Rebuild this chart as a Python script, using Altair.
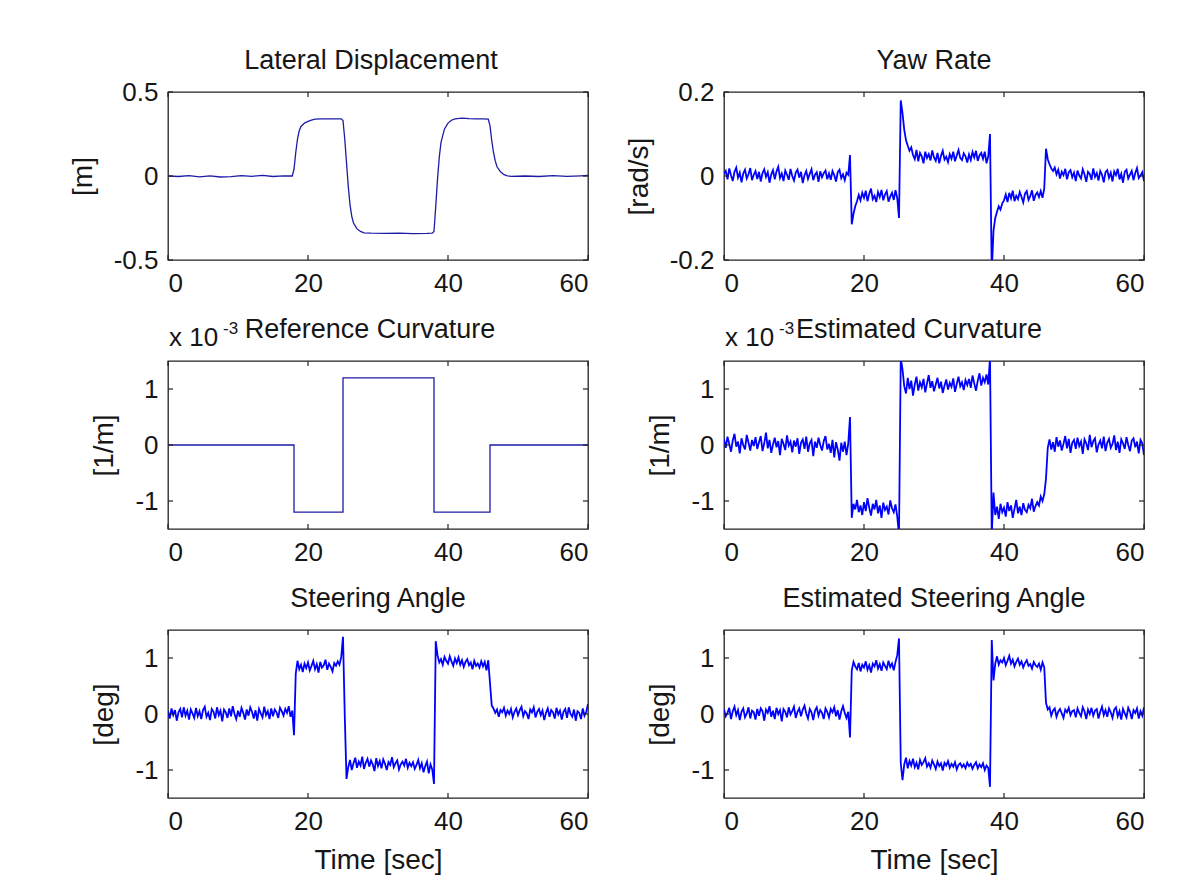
import altair as alt
import pandas as pd

# ---------------- data ----------------
T_STEP = 0.25  # sample spacing of the recorded signals [s]

# Yaw rate [rad/s], one row = 5 s
YAW_RATE = [
    0.005, 0.012, -0.008, 0.018, 0.002, -0.012, 0.010, 0.020, -0.004, 0.008, -0.015, 0.006, 0.015, -0.006, 0.004, 0.019, -0.010, 0.003, 0.012, -0.007,
    0.010, -0.013, 0.007, 0.016, -0.002, 0.009, -0.016, 0.004, 0.014, -0.008, 0.011, 0.022, -0.005, 0.006, -0.012, 0.013, 0.003, -0.009, 0.017, 0.000,
    -0.011, 0.008, 0.015, -0.004, 0.010, -0.017, 0.002, 0.012, -0.007, 0.005, 0.016, -0.010, 0.003, 0.009, -0.014, 0.011, -0.003, 0.007, 0.013, -0.008,
    0.006, -0.009, 0.012, 0.002, -0.013, 0.009, 0.015, -0.005, 0.004, -0.010, 0.008, 0.003, 0.050, -0.115, -0.090, -0.072, -0.060, -0.045, -0.058, -0.040,
    -0.052, -0.035, -0.060, -0.042, -0.030, -0.055, -0.047, -0.062, -0.038, -0.050, -0.033, -0.058, -0.044, -0.036, -0.061, -0.049, -0.040, -0.057, -0.034, -0.053,
    -0.100, 0.180, 0.150, 0.110, 0.085, 0.072, 0.060, 0.068, 0.050, 0.040, 0.062, 0.035, 0.055, 0.047, 0.030, 0.058, 0.043, 0.052, 0.037, 0.061,
    0.044, 0.036, 0.055, 0.030, 0.048, 0.060, 0.039, 0.046, 0.033, 0.052, 0.041, 0.058, 0.035, 0.049, 0.062, 0.043, 0.038, 0.054, 0.047, 0.032,
    0.051, 0.038, 0.057, 0.044, 0.060, 0.036, 0.049, 0.055, 0.041, 0.058, 0.030, 0.047, 0.100, -0.230, -0.130, -0.100, -0.085, -0.072, -0.080, -0.065,
    -0.058, -0.044, -0.062, -0.040, -0.053, -0.035, -0.060, -0.047, -0.055, -0.038, -0.050, -0.063, -0.042, -0.036, -0.057, -0.048, -0.034, -0.059, -0.045, -0.039,
    -0.050, -0.036, -0.052, -0.030, 0.065, 0.040, 0.028, 0.018, 0.012, 0.020, 0.004, 0.015, -0.006, 0.010, 0.002, 0.017, -0.008, 0.009, 0.014, -0.003,
    0.008, -0.012, 0.013, 0.001, -0.006, 0.016, 0.004, -0.014, 0.010, 0.005, -0.009, 0.018, -0.002, 0.007, -0.011, 0.012, 0.003, -0.015, 0.009, 0.014,
    -0.004, 0.008, -0.013, 0.011, 0.002, 0.017, -0.008, 0.005, -0.016, 0.010, 0.015, -0.006, 0.003, 0.012, -0.010, 0.007, 0.019, -0.005, 0.001, 0.009,
    -0.012,
]

# Estimated curvature [10^-3 1/m]
EST_CURVATURE = [
    0.10, -0.05, 0.15, 0.02, -0.12, 0.08, 0.20, -0.03, 0.06, -0.15, 0.12, 0.00, -0.08, 0.18, 0.04, -0.10, 0.09, -0.02, 0.14, -0.07,
    0.05, 0.16, -0.11, 0.03, 0.22, -0.06, 0.09, -0.14, 0.01, 0.13, -0.04, 0.07, -0.18, 0.11, 0.02, -0.09, 0.17, -0.01, 0.06, -0.13,
    0.08, -0.03, 0.12, -0.16, 0.04, 0.10, -0.07, 0.15, -0.12, 0.03, 0.09, -0.20, 0.06, -0.05, 0.13, 0.00, -0.10, 0.07, 0.16, -0.08,
    0.02, -0.14, 0.09, -0.22, 0.05, -0.08, -0.28, 0.04, -0.12, 0.06, -0.18, 0.03, 0.50, -1.30, -1.05, -1.15, -0.98, -1.20, -1.08, -1.25,
    -1.02, -1.18, -0.95, -1.12, -1.26, -1.05, -1.15, -0.98, -1.22, -1.08, -1.30, -1.03, -1.16, -1.10, -1.24, -0.99, -1.13, -1.20, -1.06, -1.28,
    -1.60, 1.55, 1.35, 1.05, 0.92, 1.20, 1.00, 1.15, 0.88, 1.08, 1.22, 0.97, 1.12, 1.03, 1.18, 0.94, 1.10, 1.25, 1.02, 1.14,
    0.96, 1.08, 1.20, 1.01, 1.13, 0.93, 1.06, 1.17, 0.99, 1.11, 1.04, 1.19, 0.95, 1.09, 1.22, 1.05, 1.12, 0.98, 1.16, 1.07,
    1.18, 1.02, 1.24, 1.10, 0.97, 1.15, 1.28, 1.06, 1.20, 1.12, 1.26, 1.08, 1.55, -1.60, -0.85, -1.25, -1.10, -1.32, -1.05, -1.20,
    -1.12, -1.28, -1.02, -1.18, -1.08, -1.30, -1.14, -0.98, -1.22, -1.10, -1.25, -1.04, -1.16, -1.20, -1.07, -1.13, -0.96, -1.19, -1.09, -1.02,
    -1.08, -0.92, -1.00, -0.88, -0.60, -0.05, 0.10, -0.08, 0.05, -0.12, 0.14, -0.03, 0.08, -0.10, 0.02, 0.16, -0.06, 0.11, -0.14, 0.04,
    0.09, -0.07, 0.13, -0.02, 0.06, -0.16, 0.10, 0.03, -0.09, 0.18, -0.04, 0.07, 0.12, -0.13, 0.01, 0.08, -0.06, 0.15, -0.11, 0.04,
    0.11, -0.05, 0.02, 0.17, -0.09, 0.06, -0.14, 0.10, 0.03, -0.07, 0.14, 0.00, -0.11, 0.08, 0.12, -0.04, 0.06, -0.15, 0.09, 0.03,
    -0.18,
]

# Steering angle [deg]
STEERING = [
    0.05, -0.08, 0.10, -0.02, 0.07, -0.12, 0.03, 0.09, -0.06, 0.12, -0.03, 0.06, -0.10, 0.08, 0.01, -0.07, 0.11, -0.04, 0.05, -0.09,
    0.07, 0.13, -0.05, 0.02, -0.11, 0.09, 0.04, -0.08, 0.12, -0.02, 0.06, -0.13, 0.08, 0.03, -0.07, 0.10, -0.04, 0.14, 0.00, -0.09,
    0.06, -0.05, 0.11, 0.02, -0.10, 0.08, -0.03, 0.12, 0.04, -0.08, 0.07, -0.12, 0.09, 0.01, -0.06, 0.13, -0.02, 0.05, -0.09, 0.10,
    -0.04, 0.08, 0.03, -0.07, 0.11, 0.05, -0.03, 0.09, 0.02, 0.14, -0.05, 0.06, -0.38, 0.72, 0.95, 0.80, 0.88, 0.75, 0.90, 0.82,
    0.92, 0.78, 0.86, 0.95, 0.80, 0.89, 0.74, 0.93, 0.83, 0.87, 0.97, 0.79, 0.90, 0.84, 0.76, 0.91, 0.86, 0.94, 0.88, 1.02,
    1.38, -0.02, -1.16, -0.95, -0.82, -1.00, -0.88, -0.78, -0.96, -0.85, -0.92, -0.76, -0.98, -0.87, -0.80, -0.94, -0.83, -0.90, -1.02, -0.79,
    -0.93, -0.84, -0.97, -0.81, -0.89, -1.00, -0.86, -0.91, -0.77, -0.95, -0.88, -0.83, -0.99, -0.90, -0.85, -0.92, -0.80, -0.96, -0.87, -0.93,
    -0.86, -0.98, -0.91, -0.82, -0.97, -0.88, -1.04, -0.93, -0.85, -1.06, -0.90, -0.99, -1.25, 1.30, 1.05, 0.92, 0.98, 0.88, 1.02, 0.95,
    0.90, 1.03, 0.94, 0.86, 0.99, 0.91, 1.01, 0.88, 0.96, 0.84, 0.93, 0.98, 0.87, 0.92, 0.80, 0.95, 0.86, 0.90, 0.83, 0.94,
    0.85, 0.93, 0.78, 0.96, 0.55, 0.15, 0.10, 0.02, 0.08, -0.05, 0.07, 0.03, 0.11, -0.03, 0.06, 0.00, 0.09, -0.06, 0.04, 0.10,
    -0.02, 0.07, 0.13, -0.04, 0.05, 0.01, -0.09, 0.08, 0.03, 0.12, -0.06, 0.04, 0.09, -0.02, 0.06, -0.11, 0.02, 0.10, -0.05, 0.07,
    0.03, -0.08, 0.11, -0.01, 0.06, -0.10, 0.04, 0.09, -0.07, 0.12, 0.00, -0.05, 0.08, -0.12, 0.05, 0.02, -0.09, 0.10, -0.03, 0.04,
    0.18,
]

# Estimated steering angle [deg]
EST_STEERING = [
    0.08, -0.04, 0.02, 0.11, -0.09, 0.05, 0.13, -0.02, 0.07, -0.11, 0.04, 0.10, -0.06, 0.01, 0.12, -0.08, 0.06, 0.03, -0.10, 0.09,
    -0.03, 0.10, 0.05, -0.12, 0.08, 0.02, 0.14, -0.05, 0.06, -0.09, 0.11, 0.00, 0.07, -0.13, 0.09, 0.04, -0.06, 0.12, -0.01, 0.05,
    0.13, -0.07, 0.04, 0.10, -0.04, 0.08, 0.15, 0.01, -0.08, 0.09, 0.03, -0.11, 0.06, 0.12, -0.03, 0.07, 0.02, -0.09, 0.10, 0.04,
    -0.06, 0.09, 0.03, 0.12, -0.04, 0.07, -0.10, 0.05, 0.14, 0.02, -0.07, 0.04, -0.42, 0.78, 0.93, 0.85, 0.80, 0.91, 0.76, 0.88,
    0.83, 0.94, 0.79, 0.87, 0.74, 0.90, 0.85, 0.96, 0.81, 0.89, 0.77, 0.92, 0.86, 0.80, 0.95, 0.84, 0.90, 0.78, 0.93, 1.05,
    1.35, -0.88, -1.18, -0.90, -0.78, -0.97, -0.84, -0.92, -0.80, -0.95, -0.87, -0.99, -0.82, -0.91, -0.86, -0.79, -0.94, -0.88, -0.96, -0.83,
    -0.90, -0.98, -0.85, -0.93, -0.88, -1.01, -0.87, -0.92, -0.84, -0.96, -0.89, -0.94, -0.86, -0.99, -0.91, -0.88, -0.95, -0.90, -0.97, -0.87,
    -0.93, -0.89, -0.98, -0.91, -0.86, -0.97, -0.90, -0.95, -0.88, -1.00, -0.92, -0.96, -1.30, 1.32, 0.60, 0.90, 1.03, 0.88, 0.96, 0.92,
    1.00, 0.87, 0.95, 1.04, 0.90, 0.97, 0.85, 0.93, 0.99, 0.88, 0.94, 0.83, 0.91, 0.96, 0.86, 0.89, 0.81, 0.93, 0.87, 0.84,
    0.90, 0.79, 0.92, 0.83, 0.20, 0.08, 0.12, -0.03, 0.06, 0.10, -0.05, 0.04, 0.09, 0.01, -0.07, 0.08, 0.03, 0.11, -0.02, 0.05,
    0.07, -0.06, 0.10, 0.02, -0.04, 0.12, 0.05, -0.09, 0.08, 0.00, 0.11, -0.03, 0.06, 0.09, -0.08, 0.04, 0.13, -0.02, 0.07, -0.05,
    0.10, 0.03, -0.07, 0.08, 0.12, -0.04, 0.05, -0.10, 0.09, 0.01, -0.06, 0.11, 0.04, -0.09, 0.07, 0.02, 0.10, -0.08, 0.05, -0.03,
    0.12,
]

# Lateral displacement [m]
LAT_T = [0, 1.5, 3, 4.5, 6, 7.5, 9, 10.5, 12, 13.5, 15, 16.5, 17.75,
         18.0, 18.25, 18.5, 18.75, 19.0, 19.5, 20, 20.5, 21, 22, 23, 24, 24.75,
         25.0, 25.25, 25.5, 25.75, 26.0, 26.25, 26.5, 27.0, 27.5, 28, 29, 31, 33, 35, 37, 37.75,
         38.0, 38.25, 38.5, 38.75, 39.0, 39.5, 40, 40.5, 41, 42, 43, 44, 45, 45.75,
         46.0, 46.25, 46.5, 46.75, 47.0, 47.5, 48, 48.5, 49, 51, 53, 55, 57, 59, 60]
LAT_V = [0.000, -0.003, 0.002, -0.005, 0.001, -0.006, -0.004, 0.002, -0.002, 0.004, -0.003, 0.001, 0.000,
         0.040, 0.140, 0.220, 0.270, 0.295, 0.315, 0.325, 0.333, 0.338, 0.340, 0.340, 0.340, 0.340,
         0.330, 0.220, 0.080, -0.060, -0.170, -0.240, -0.280, -0.315, -0.330, -0.338, -0.340, -0.341, -0.340, -0.343, -0.342, -0.340,
         -0.330, -0.180, -0.020, 0.110, 0.200, 0.280, 0.315, 0.332, 0.340, 0.345, 0.342, 0.340, 0.340, 0.338,
         0.300, 0.210, 0.140, 0.090, 0.055, 0.025, 0.008, 0.001, -0.002, 0.000, -0.003, 0.002, -0.002, 0.001, 0.003]

# Reference curvature [10^-3 1/m] (piecewise constant)
REF_T = [0, 18, 18, 25, 25, 38, 38, 46, 46, 60]
REF_V = [0, 0, -1.2, -1.2, 1.2, 1.2, -1.2, -1.2, 0, 0]

X_TICKS = [0, 20, 40, 60]
Y_TICKS_LAT = [-0.5, 0, 0.5]
Y_TICKS_YAW = [-0.2, 0, 0.2]
Y_TICKS_UNIT = [-1, 0, 1]

# ---------------- styling ----------------
FONT = "Liberation Sans"
TXT = "#161616"
BLUE = "#0000ff"
NAVY = "#1c1ca6"
W, H = 420, 168
TICK_LEN = 5
LABEL_SIZE = 26


def sampled(values):
    return pd.DataFrame({"t": [i * T_STEP for i in range(len(values))],
                         "v": values, "i": list(range(len(values)))})


def paired(ts, vs):
    return pd.DataFrame({"t": ts, "v": vs, "i": list(range(len(ts)))})


def label(text, x, y, size, align="left"):
    return alt.Chart(pd.DataFrame({"k": [0]})).mark_text(
        align=align, baseline="alphabetic", font=FONT, fontSize=size, color=TXT
    ).encode(x=alt.value(x), y=alt.value(y), text=alt.value(text))


def panel(df, title, ylabel, ydom, yticks, xtitle=None, color=BLUE, sw=1.8,
          title_dx=0, exponent=False):
    x_axis = alt.Axis(values=X_TICKS, title=xtitle, labelFont=FONT, labelFontSize=LABEL_SIZE,
                      labelColor=TXT, labelPadding=10, ticks=False, tickSize=0,
                      domain=False, grid=False, labelExpr="'' + datum.value",
                      titleFont=FONT, titleFontSize=28, titleFontWeight="normal",
                      titleColor=TXT, titlePadding=12)
    y_axis = alt.Axis(values=yticks, title=ylabel, labelFont=FONT, labelFontSize=LABEL_SIZE,
                      labelColor=TXT, labelPadding=10, ticks=False, tickSize=0,
                      domain=False, grid=False, labelExpr="'' + datum.value",
                      titleFont=FONT, titleFontSize=28, titleFontWeight="normal",
                      titleColor=TXT, titlePadding=16)
    x = alt.X("t:Q", scale=alt.Scale(domain=[0, 60], nice=False, zero=False), axis=x_axis)
    y = alt.Y("v:Q", scale=alt.Scale(domain=ydom, nice=False, zero=False), axis=y_axis)

    line = alt.Chart(df).mark_line(color=color, strokeWidth=sw, clip=True).encode(
        x=x, y=y, order="i:Q")
    xt = pd.DataFrame({"t": X_TICKS})
    yt = pd.DataFrame({"v": yticks})
    layers = [
        line,
        alt.Chart(xt).mark_rule(color="#222", strokeWidth=1.2).encode(
            x=x, y=alt.value(0), y2=alt.value(TICK_LEN)),
        alt.Chart(xt).mark_rule(color="#222", strokeWidth=1.2).encode(
            x=x, y=alt.value(H), y2=alt.value(H - TICK_LEN)),
        alt.Chart(yt).mark_rule(color="#222", strokeWidth=1.2).encode(
            y=y, x=alt.value(0), x2=alt.value(TICK_LEN)),
        alt.Chart(yt).mark_rule(color="#222", strokeWidth=1.2).encode(
            y=y, x=alt.value(W), x2=alt.value(W - TICK_LEN)),
        label(title, W / 2 + title_dx, -23, 27, align="center"),
    ]
    if exponent:
        layers.append(label("x 10", 1, -15, 26))
        layers.append(label("-3", 55, -27, 17))
    return alt.layer(*layers).properties(width=W, height=H)


p1 = panel(paired(LAT_T, LAT_V), "Lateral Displacement", "[m]", [-0.5, 0.5],
           Y_TICKS_LAT, color=NAVY, sw=1.3, title_dx=-7)
p2 = panel(sampled(YAW_RATE), "Yaw Rate", "[rad/s]", [-0.2, 0.2], Y_TICKS_YAW)
p3 = panel(paired(REF_T, REF_V), "Reference Curvature", "[1/m]", [-1.5, 1.5],
           Y_TICKS_UNIT, color=NAVY, sw=1.3, title_dx=-8, exponent=True)
p4 = panel(sampled(EST_CURVATURE), "Estimated Curvature", "[1/m]", [-1.5, 1.5],
           Y_TICKS_UNIT, title_dx=-15, exponent=True)
p5 = panel(sampled(STEERING), "Steering Angle", "[deg]", [-1.5, 1.5],
           Y_TICKS_UNIT, xtitle="Time [sec]")
p6 = panel(sampled(EST_STEERING), "Estimated Steering Angle", "[deg]", [-1.5, 1.5],
           Y_TICKS_UNIT, xtitle="Time [sec]")

chart = alt.concat(
    p1, p2, p3, p4, p5, p6, columns=2,
    spacing=alt.RowColnumber(row=101, column=136), bounds="flush",
).properties(
    padding={"left": 60, "top": 38, "right": 5, "bottom": 5},
    background="white",
).configure_view(stroke="#222", strokeWidth=1.3)

chart.save("out.html", embed_options={"renderer": "svg", "actions": False})
